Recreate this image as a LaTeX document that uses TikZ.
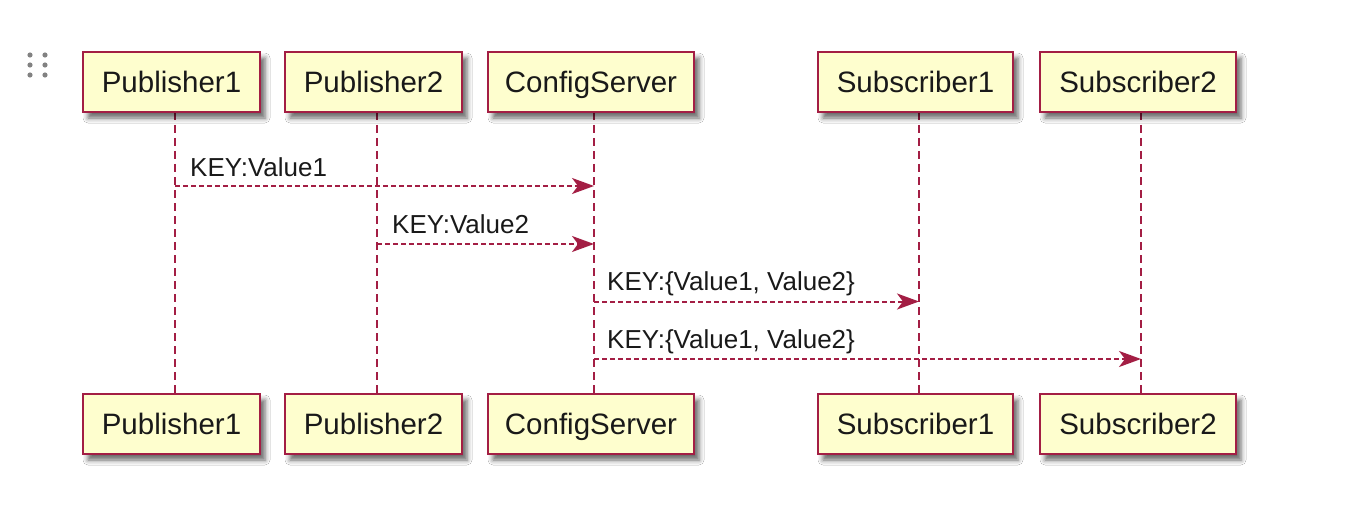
\documentclass[tikz,border=0pt]{standalone}
\usepackage{fontspec}
\setmainfont{Liberation Sans}
\usetikzlibrary{arrows.meta,shadows.blur}
\definecolor{umlred}{RGB}{163,30,68}
\definecolor{umlfill}{RGB}{254,254,206}
\definecolor{dotgray}{RGB}{130,130,130}
\tikzset{
  part/.style={draw=umlred, line width=2.6pt, fill=umlfill, minimum height=60pt,
    inner sep=0pt, text height=21.5pt, text depth=0pt, text=black!90,
    font=\fontsize{29.5}{34}\selectfont,
    blur shadow={shadow xshift=5pt, shadow yshift=-6pt, shadow blur radius=5pt, shadow opacity=60}},
  lifeline/.style={draw=umlred, line width=2pt, dash pattern=on 8pt off 5pt},
  msg/.style={draw=umlred, line width=2pt, dash pattern=on 5pt off 3pt,
    -{Stealth[length=22pt, width=16pt, inset=6pt, fill=umlred]}},
  msglabel/.style={anchor=base west, inner sep=0pt, text=black!90,
    font=\fontsize{26}{30}\selectfont},
  dragdot/.style={fill=dotgray, draw=none}
}
\begin{document}
\begin{tikzpicture}[x=1pt, y=-1pt]
\useasboundingbox[fill=white] (0,0) rectangle (1360,508);
% drag handle
\foreach \dx in {30,45}{\foreach \dy in {55,65,75}{\fill[dragdot] (\dx,\dy) circle (2.6pt);}}
% lifelines (drawn first)
\coordinate (l1t) at (175,112); \coordinate (l1b) at (175,394);
\coordinate (l2t) at (377,112); \coordinate (l2b) at (377,394);
\coordinate (l3t) at (594,112); \coordinate (l3b) at (594,394);
\coordinate (l4t) at (919,112); \coordinate (l4b) at (919,394);
\coordinate (l5t) at (1141,112); \coordinate (l5b) at (1141,394);
\draw[lifeline] (l1t) -- (l1b);
\draw[lifeline] (l2t) -- (l2b);
\draw[lifeline] (l3t) -- (l3b);
\draw[lifeline] (l4t) -- (l4b);
\draw[lifeline] (l5t) -- (l5b);
% participants top
\node[part, minimum width=177pt] (p1t) at (171.5,82) {Publisher1};
\node[part, minimum width=177pt] (p2t) at (373.5,82) {Publisher2};
\node[part, minimum width=206pt] (cst) at (591,82) {ConfigServer};
\node[part, minimum width=195pt] (s1t) at (915.5,82) {Subscriber1};
\node[part, minimum width=196pt] (s2t) at (1138,82) {Subscriber2};
% participants bottom
\node[part, minimum width=177pt] (p1b) at (171.5,424) {Publisher1};
\node[part, minimum width=177pt] (p2b) at (373.5,424) {Publisher2};
\node[part, minimum width=206pt] (csb) at (591,424) {ConfigServer};
\node[part, minimum width=195pt] (s1b) at (915.5,424) {Subscriber1};
\node[part, minimum width=196pt] (s2b) at (1138,424) {Subscriber2};
% messages
\coordinate (m1s) at (175,186); \coordinate (m1e) at (594,186);
\coordinate (m2s) at (377,244); \coordinate (m2e) at (594,244);
\coordinate (m3s) at (594,301.5); \coordinate (m3e) at (919,301.5);
\coordinate (m4s) at (594,359); \coordinate (m4e) at (1141,359);
\draw[msg] (m1s) -- (m1e);
\draw[msg] (m2s) -- (m2e);
\draw[msg] (m3s) -- (m3e);
\draw[msg] (m4s) -- (m4e);
\node[msglabel] (t1) at (190,176) {KEY:Value1};
\node[msglabel] (t2) at (392,233.5) {KEY:Value2};
\node[msglabel] (t3) at (607,290) {KEY:\{Value1, Value2\}};
\node[msglabel] (t4) at (607,348) {KEY:\{Value1, Value2\}};
\end{tikzpicture}
\end{document}
